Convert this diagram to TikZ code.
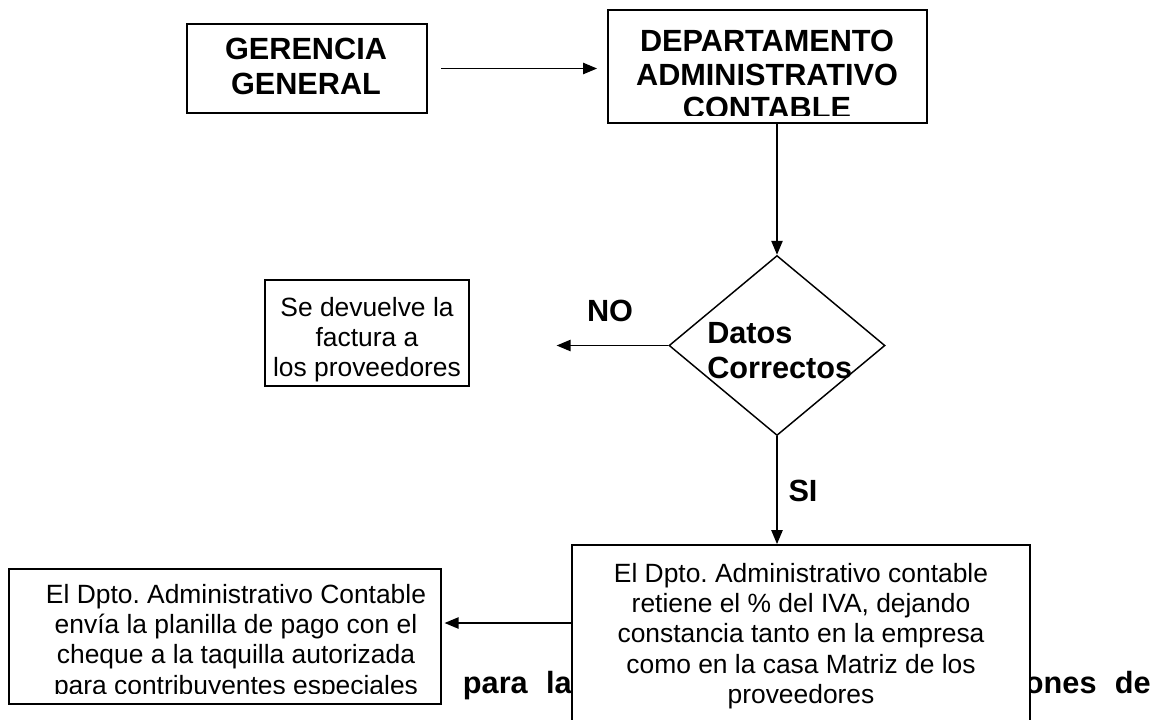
\documentclass[tikz,border=0pt]{standalone}
\usepackage{fontspec}
\setmainfont{Liberation Sans}
\usetikzlibrary{shapes.geometric,arrows.meta}
\frenchspacing

\begin{document}
\begin{tikzpicture}[x=0.75pt,y=-0.75pt,
    box/.style={shape=rectangle,draw=black,line width=1.4pt,fill=white,inner sep=0pt},
    txt/.style={align=center,inner sep=0pt,font=\fontsize{19.8}{22.7}\selectfont},
    bold/.style={align=center,inner sep=0pt,font=\fontsize{23}{26.2}\selectfont\bfseries},
    arr/.style={-{Triangle[length=10.5pt,width=8.5pt]},line width=1.1pt}]
    \useasboundingbox (0,0) rectangle (1153,719);

    %text behind the boxes
    \node[bold,anchor=base east] (7) at (572,693) {para\hspace{0.6em}la};
    \node[bold,anchor=base east] (8) at (1151,693) {ones\hspace{0.6em}de};

    \node[box,minimum width=180pt,minimum height=66.75pt] (0) at (307,68.5) {};
    \node[bold,anchor=north] (0t) at (306,38) {GERENCIA\\GENERAL};
    \node[box,minimum width=239.25pt,minimum height=84.75pt] (1) at (767.5,66.5) {};
    \begin{scope}
        \clip (1.north west) rectangle ([yshift=6.3pt]1.south east);
        \node[bold,anchor=north,font=\fontsize{23}{25.1}\selectfont\bfseries] (1t) at (767,30) {DEPARTAMENTO\\ADMINISTRATIVO\\CONTABLE};
    \end{scope}

    %decision
    \node[shape=diamond,draw=black,line width=1.1pt,inner sep=0pt,
          minimum width=162pt,minimum height=135pt] (2) at (777,345.5) {};
    \node[bold,align=left,anchor=north west] (2t) at (707,322) {Datos\\Correctos};
    \node[bold] (9) at (610,311) {NO};
    \node[bold] (10) at (803,491) {SI};
    %
    \node[box,minimum width=153pt,minimum height=79.5pt] (4) at (367,333) {};
    \node[txt,anchor=north] (4t) at (367,297) {Se devuelve la\\factura a\\los proveedores};

    \node[box,minimum width=343.5pt,minimum height=142.5pt] (3) at (801,640) {};
    \node[txt,anchor=north] (3t) at (801,563) {El Dpto. Administrativo contable\\retiene el \% del IVA, dejando\\constancia tanto en la empresa\\como en la casa Matriz de los\\proveedores};

    \node[box,minimum width=324pt,minimum height=101.25pt] (5) at (225,636.5) {};
    \begin{scope}
        \clip (5.north west) rectangle ([yshift=8.25pt]5.south east);
        \node[txt,anchor=north] (5t) at (236,584) {El Dpto. Administrativo Contable\\env\'ia la planilla de pago con el\\cheque a la taquilla autorizada\\para contribuyentes especiales};
    \end{scope}
    \coordinate (6) at (572,623);

    \path [arr,shorten <=10pt,shorten >=7.5pt] (0.east) edge (0.east -| 1.west);
    \path [arr] (2.north |- 1.south) edge (2.north);
    \path [arr,shorten >=65pt] (2.west) edge (2.west -| 4.east);
    \path [arr] (2.south) edge (2.south |- 3.north);
    \path [arr,shorten >=2pt] (6) edge (6 -| 5.east);
\end{tikzpicture}
\end{document}
